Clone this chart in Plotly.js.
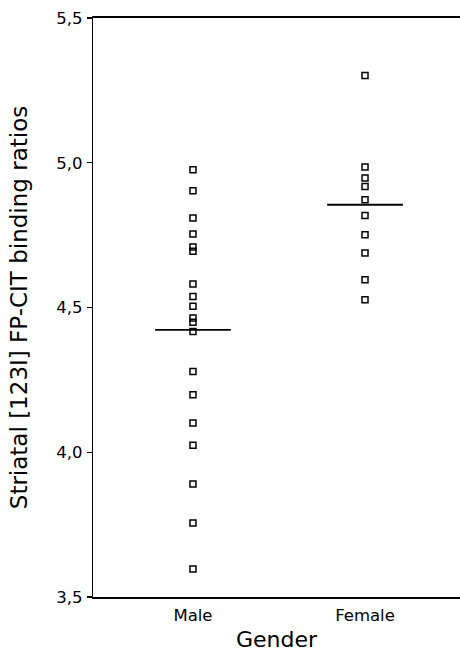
<!DOCTYPE html>
<html>
<head>
<meta charset="utf-8">
<script src="https://cdn.plot.ly/plotly-3.0.1.min.js"></script>
<style>
  html, body { margin: 0; padding: 0; background: #fff; }
  #chart { width: 460px; height: 652px; }
</style>
</head>
<body>
<div id="chart"></div>
<script>
// Categories and values
const categories = ["Male", "Female"];
const maleValues = [4.976, 4.903, 4.809, 4.754, 4.709, 4.694, 4.581, 4.538, 4.504,
                    4.464, 4.449, 4.417, 4.279, 4.199, 4.101, 4.024, 3.890, 3.756, 3.597];
const femaleValues = [5.301, 4.985, 4.947, 4.918, 4.872, 4.818, 4.751, 4.688, 4.596, 4.527];
const groupMeans = [4.423, 4.855];
const yTicks = [3.5, 4.0, 4.5, 5.0, 5.5];

const groups = [maleValues, femaleValues];
const MEAN_HALF_WIDTH = 0.22;
const FONT = "DejaVu Sans, Liberation Sans, Arial, sans-serif";

const traces = [];
groups.forEach((vals, gi) => {
  traces.push({
    type: "scatter",
    mode: "markers",
    x: vals.map(() => gi),
    y: vals,
    marker: { symbol: "square-open", size: 6, color: "#000", line: { color: "#000", width: 1.5 } },
    hoverinfo: "y",
    showlegend: false
  });
  traces.push({
    type: "scatter",
    mode: "lines",
    x: [gi - MEAN_HALF_WIDTH, gi + MEAN_HALF_WIDTH],
    y: [groupMeans[gi], groupMeans[gi]],
    line: { color: "#000", width: 1.8 },
    hoverinfo: "skip",
    showlegend: false
  });
});

const layout = {
  width: 460,
  height: 652,
  margin: { l: 93, r: 0, t: 18, b: 55 },
  paper_bgcolor: "#fff",
  plot_bgcolor: "#fff",
  separators: ", ",
  font: { family: FONT, color: "#000" },
  showlegend: false,
  xaxis: {
    range: [-0.581, 1.552],
    tickvals: categories.map((c, i) => i),
    ticktext: categories,
    ticks: "",
    showgrid: false,
    zeroline: false,
    showline: true,
    linecolor: "#000",
    linewidth: 2,
    mirror: true,
    tickfont: { family: FONT, size: 16.5, color: "#000" },
    ticklabelstandoff: 2,
    title: { text: "Gender", font: { family: FONT, size: 22, color: "#000" }, standoff: 9 },
    automargin: false
  },
  yaxis: {
    range: [3.5, 5.5],
    tickvals: yTicks,
    tickformat: ".1f",
    ticks: "outside",
    ticklen: 5,
    tickwidth: 1.2,
    tickcolor: "#000",
    showgrid: false,
    zeroline: false,
    showline: true,
    linecolor: "#000",
    linewidth: 1.2,
    mirror: false,
    tickfont: { family: FONT, size: 16.5, color: "#000" },
    ticklabelstandoff: 1,
    title: { text: "Striatal [123I] FP-CIT binding ratios", font: { family: FONT, size: 23, color: "#000" }, standoff: 22 },
    automargin: false
  }
};

Plotly.newPlot("chart", traces, layout, { displayModeBar: false, staticPlot: true });
</script>
</body>
</html>
